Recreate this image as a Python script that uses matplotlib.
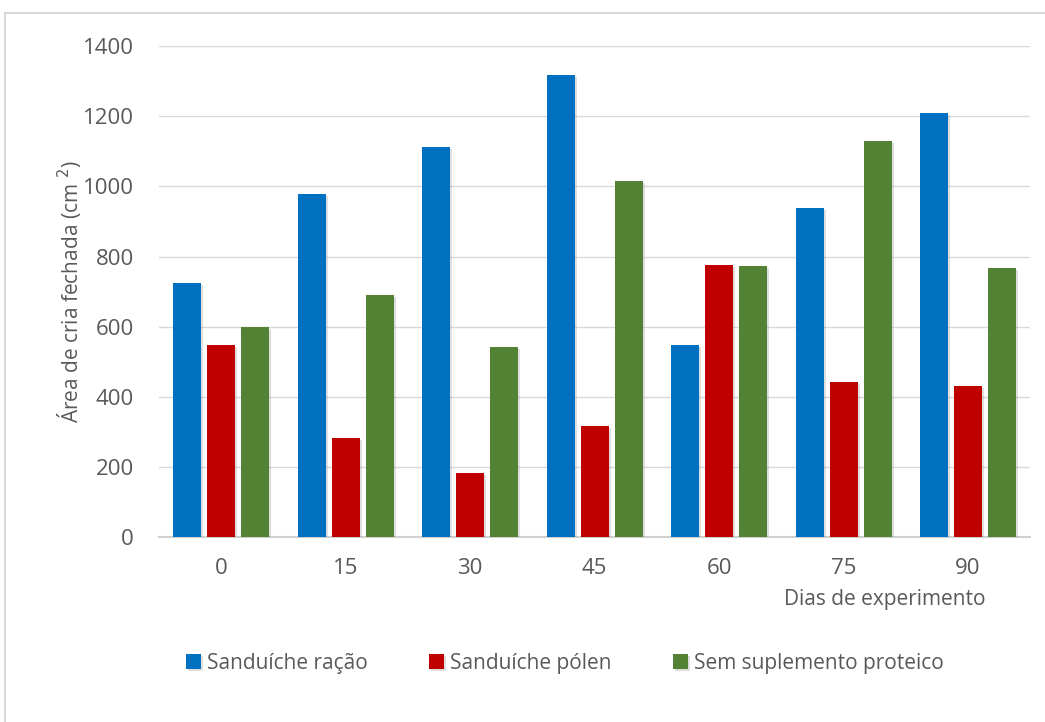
import numpy as np
import matplotlib
matplotlib.use("Agg")
import matplotlib.pyplot as plt
import matplotlib.patheffects as pe
from matplotlib.patches import Rectangle

# dados: área de cria fechada por dia de experimento
dias = ["0", "15", "30", "45", "60", "75", "90"]
racao = [725, 978, 1112, 1317, 548, 938, 1209]
polen = [547, 282, 182, 316, 776, 442, 431]
sem_suplemento = [599, 690, 543, 1015, 773, 1129, 767]

series = [
    ("Sanduíche ração", racao, "#0070C0"),
    ("Sanduíche pólen", polen, "#C00000"),
    ("Sem suplemento proteico", sem_suplemento, "#548235"),
]

plt.rcParams["font.family"] = ["Open Sans", "DejaVu Sans"]
cinza = "#595959"

fig = plt.figure(figsize=(10.45, 7.22), dpi=100)
ax = fig.add_axes([0.152, 0.256, 0.834, 0.68])

# moldura do gráfico
fig.patches.append(Rectangle((5 / 1045, -0.05), 1.1, 1 - 13 / 722 + 0.05,
                             transform=fig.transFigure, fill=False,
                             edgecolor="#d9d9d9", linewidth=1.5))

x = np.arange(len(dias))
largura = 0.225
passo = 0.273
sombra = [pe.SimplePatchShadow(offset=(1.5, -1.5), alpha=0.25, shadow_rgbFace="#808080"),
          pe.Normal()]
for i, (nome, valores, cor) in enumerate(series):
    ax.bar(x + (i - 1) * passo, valores, width=largura, color=cor, label=nome,
           path_effects=sombra, zorder=3)

ax.set_xlim(-0.5, len(dias) - 0.5)
ax.set_ylim(0, 1400)
ax.set_yticks(range(0, 1401, 200))
ax.set_xticks(x)
ax.set_xticklabels(dias)
ax.grid(axis="y", color="#d9d9d9", linewidth=1, zorder=0)
for lado in ["top", "right", "left"]:
    ax.spines[lado].set_visible(False)
ax.spines["bottom"].set_color("#d0d0d0")
ax.spines["bottom"].set_linewidth(1.5)
ax.tick_params(axis="both", length=0, labelsize=16, colors=cinza)
ax.tick_params(axis="x", pad=15)
ax.tick_params(axis="y", pad=18)

ax.set_ylabel("Área de cria fechada (cm $^{2}$)", fontsize=15, color=cinza, labelpad=0)
fig.text(985 / 1045, 1 - 600 / 722, "Dias de experimento", ha="right", va="center",
         fontsize=15, color=cinza)

fig.legend(loc="center", bbox_to_anchor=(565 / 1045, 1 - 663 / 722), ncol=3,
           frameon=False, fontsize=15, labelcolor=cinza, handlelength=0.7,
           handleheight=0.7, handletextpad=0.3, columnspacing=2.95)

fig.savefig("out.png", dpi=100)
